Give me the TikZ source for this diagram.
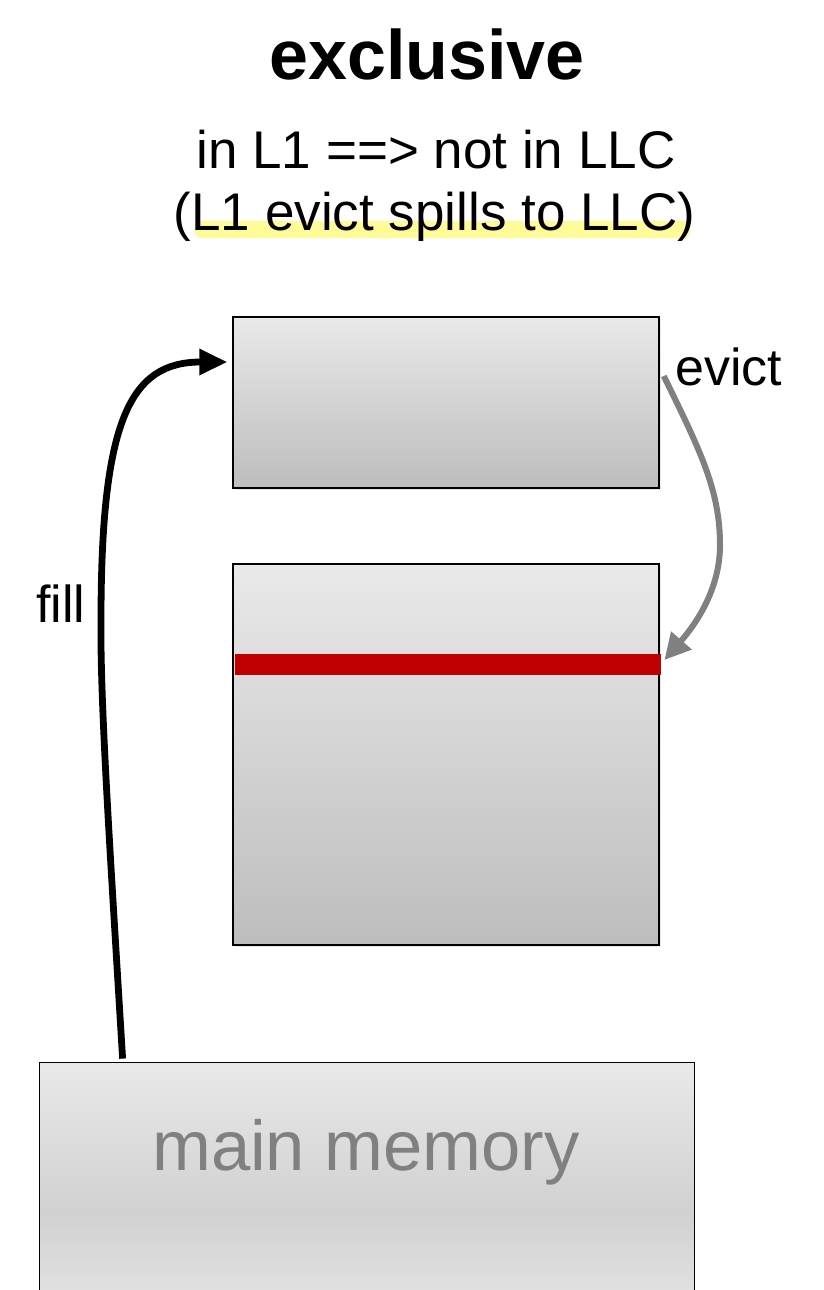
\documentclass[tikz,border=0pt]{standalone}
\usepackage{fontspec}
\setmainfont{Liberation Sans}
\usetikzlibrary{arrows.meta,shadows,calc}
\definecolor{boxtop}{HTML}{E9E9E9}
\definecolor{boxbot}{HTML}{BDBDBD}
\definecolor{barred}{HTML}{C00000}
\definecolor{hl}{HTML}{FFFB99}
\definecolor{arrgray}{HTML}{808080}
\begin{document}
\begin{tikzpicture}[x=0.5pt,y=-0.5pt,
  cachebox/.style={draw=black,line width=0.75pt,top color=boxtop,bottom color=boxbot,
    minimum width=213pt,inner sep=0pt,
    drop shadow={opacity=0.18,shadow xshift=1.2pt,shadow yshift=-1.2pt}},
  lbl/.style={font=\fontsize{26}{31}\selectfont,inner sep=0pt,anchor=base west},
  fillarrow/.style={line width=3.4pt,-{Triangle[length=14pt,width=12.5pt]}},
  evictarrow/.style={draw=arrgray,line width=3pt,-{Triangle[length=13pt,width=13pt,fill=arrgray]}}]
\useasboundingbox (0,0) rectangle (824,1290);
% highlight
\fill[hl,rounded corners=3pt] (195,221) rectangle (690,238);
% titles
\node[font=\bfseries\fontsize{35}{40}\selectfont,inner sep=0pt,anchor=base] (title) at (427,79) {exclusive};
\node[font=\fontsize{26.5}{31}\selectfont,inner sep=0pt,anchor=base] (sub1) at (436,168) {in L1 ==> not in LLC};
\node[font=\fontsize{26.5}{31}\selectfont,inner sep=0pt,anchor=base] (sub2) at (434.5,230) {(L1 evict spills to LLC)};
% boxes
\node[cachebox,minimum height=85.5pt] (l1) at (446,402.5) {};
\node[cachebox,minimum height=190.5pt] (llc) at (446,754.5) {};
\fill[barred] (235,654) rectangle (661,675);
\node[inner sep=0pt,minimum width=213pt,minimum height=10.5pt] (bar) at (448,664.5) {};
% main memory
\shade[top color=boxtop,bottom color=boxtop!80!white,middle color=boxbot!55!boxtop] (40,1063) rectangle (694,1360);
\node[inner sep=0pt,minimum width=327pt,minimum height=113.5pt] (mm) at (367,1176.5) {};
\draw[line width=0.75pt] (mm.south west) -- (mm.north west) -- (mm.north east) -- (mm.south east);
\node[font=\fontsize{35.3}{40}\selectfont,text=arrgray,inner sep=0pt,anchor=base] (mmtext) at (366,1170) {main memory};
% labels
\node[lbl] (evictlbl) at (675,385) {evict};
\node[lbl] (filllbl) at (36,622) {fill};
% connectors
\coordinate (fs) at ($(mm.north west)+(83,-4)$);
\coordinate (fm) at (101,620);
\coordinate (fe) at ($(l1.west)+(-5,-40.5)$);
\draw[fillarrow] (fs) .. controls (110,850) and (100,700) .. (fm)
  .. controls (101,420) and (130,362) .. (fe);
\coordinate (es) at ($(l1.east)+(4,-26.5)$);
\coordinate (em) at (720,545);
\coordinate (ee) at ($(bar.east)+(3,-4.5)$);
\draw[evictarrow] (es) .. controls (700,450) and (720,490) .. (em)
  .. controls (720,590) and (695,625) .. (ee);
\end{tikzpicture}
\end{document}
